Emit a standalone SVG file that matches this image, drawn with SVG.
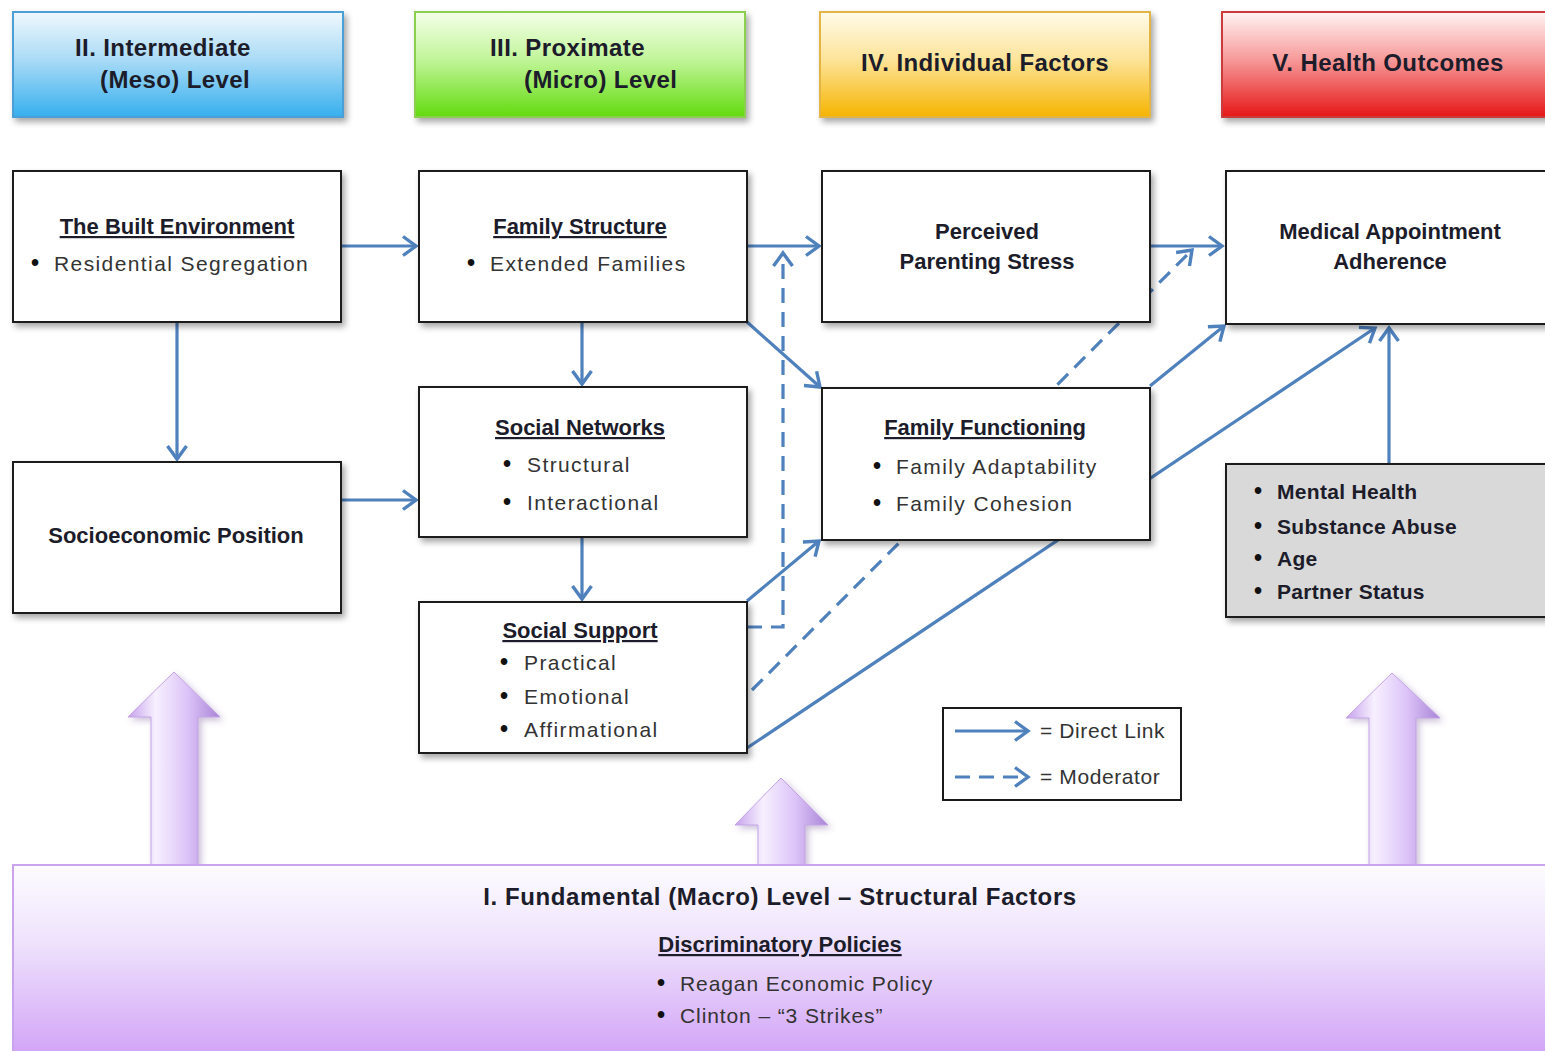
<svg xmlns="http://www.w3.org/2000/svg" width="1545" height="1051" viewBox="0 0 1545 1051">
<style>
.box{fill:#fff;stroke:#1a1a1a;stroke-width:2}
.t{font-family:"Liberation Sans",Arial,sans-serif;fill:#1c1c2a}
.ti{font-weight:bold;font-size:22px;text-decoration:underline}
.nb{font-weight:bold;font-size:22px}
.mt{font-weight:bold;font-size:24px;letter-spacing:0.6px}
.b{font-size:21px;letter-spacing:1.4px;fill:#333}
.bb{font-size:21px;letter-spacing:0.9px;fill:#333}
.dot{font-size:23px;font-weight:bold;fill:#111}
.h{font-weight:bold;font-size:24px;letter-spacing:0.4px}
.gb{font-weight:bold;font-size:21px;letter-spacing:0.3px}
.lg{font-size:21px;letter-spacing:0.6px;fill:#333}
.conn{stroke:#4f81bd;stroke-width:3.2;fill:none}
.dash{stroke-dasharray:15 9}
.parr{stroke:#c3a3e6;stroke-width:1;fill:url(#pa)}
</style>
<defs>
<filter id="sh" x="-10%" y="-10%" width="125%" height="130%">
<feDropShadow dx="3" dy="4" stdDeviation="3" flood-color="#000" flood-opacity="0.35"/>
</filter>
<filter id="sh2" x="-30%" y="-10%" width="160%" height="130%">
<feDropShadow dx="3" dy="3" stdDeviation="3" flood-color="#6a4a90" flood-opacity="0.35"/>
</filter>
<marker id="ah" viewBox="0 0 18 22" refX="15" refY="11" markerWidth="18" markerHeight="22" markerUnits="userSpaceOnUse" orient="auto">
<path d="M2,1.5 L15,11 L2,20.5" fill="none" stroke="#4f81bd" stroke-width="3.4"/>
</marker>
<linearGradient id="gBlue" x1="0" y1="0" x2="0" y2="1">
<stop offset="0" stop-color="#f0f8fd"/><stop offset="0.45" stop-color="#aadbf6"/><stop offset="1" stop-color="#36afee"/>
</linearGradient>
<linearGradient id="gGreen" x1="0" y1="0" x2="0" y2="1">
<stop offset="0" stop-color="#f4ffe9"/><stop offset="0.45" stop-color="#c2f59a"/><stop offset="1" stop-color="#62db0e"/>
</linearGradient>
<linearGradient id="gOrange" x1="0" y1="0" x2="0" y2="1">
<stop offset="0" stop-color="#fffbe9"/><stop offset="0.45" stop-color="#fde49a"/><stop offset="1" stop-color="#f6b400"/>
</linearGradient>
<linearGradient id="gRed" x1="0" y1="0" x2="0" y2="1">
<stop offset="0" stop-color="#fff4f4"/><stop offset="0.45" stop-color="#f79a9a"/><stop offset="1" stop-color="#e61616"/>
</linearGradient>
<linearGradient id="gPurple" x1="0" y1="0" x2="0" y2="1">
<stop offset="0" stop-color="#fdfcff"/><stop offset="0.4" stop-color="#efe3fc"/><stop offset="1" stop-color="#d2a4f7"/>
</linearGradient>
<linearGradient id="pa" x1="0" y1="0" x2="1" y2="0">
<stop offset="0" stop-color="#c6a2ec"/><stop offset="0.3" stop-color="#f7f0ff"/><stop offset="0.65" stop-color="#dcc3f8"/><stop offset="1" stop-color="#a884d6"/>
</linearGradient>
</defs>
<rect width="1545" height="1051" fill="#fff"/>

<g id="headers">
<g id="h-meso">
<rect x="13" y="12" width="330" height="105" fill="url(#gBlue)" stroke="#4a9fd6" stroke-width="2" filter="url(#sh)"/>
<text class="t h" x="75" y="56">II. Intermediate</text>
<text class="t h" x="100" y="88">(Meso) Level</text>
</g>
<g id="h-micro">
<rect x="415" y="12" width="330" height="105" fill="url(#gGreen)" stroke="#8ccf4f" stroke-width="2" filter="url(#sh)"/>
<text class="t h" x="490" y="56">III. Proximate</text>
<text class="t h" x="524" y="88">(Micro) Level</text>
</g>
<g id="h-indiv">
<rect x="820" y="12" width="330" height="105" fill="url(#gOrange)" stroke="#e2b544" stroke-width="2" filter="url(#sh)"/>
<text class="t h" x="985" y="71" text-anchor="middle">IV. Individual Factors</text>
</g>
<g id="h-health">
<rect x="1222" y="12" width="330" height="105" fill="url(#gRed)" stroke="#cc3a3a" stroke-width="2" filter="url(#sh)"/>
<text class="t h" x="1388" y="71" text-anchor="middle">V. Health Outcomes</text>
</g>
</g>

<g id="connectors">
<path class="conn" d="M341,246 H416" marker-end="url(#ah)"/>
<path class="conn" d="M177,322 V459" marker-end="url(#ah)"/>
<path class="conn" d="M341,500 H416" marker-end="url(#ah)"/>
<path class="conn" d="M582,322 V384" marker-end="url(#ah)"/>
<path class="conn" d="M582,537 V599" marker-end="url(#ah)"/>
<path class="conn" d="M747,246 H819" marker-end="url(#ah)"/>
<path class="conn" d="M747,322 L820,387" marker-end="url(#ah)"/>
<path class="conn" d="M1150,246 H1222" marker-end="url(#ah)"/>
<path class="conn" d="M1150,386 L1224,326" marker-end="url(#ah)"/>
<path class="conn" d="M747,748 L1375,328" marker-end="url(#ah)"/>
<path class="conn" d="M1389,464 V328" marker-end="url(#ah)"/>
<path class="conn" d="M747,601 L819,541" marker-end="url(#ah)"/>
<path class="conn dash" d="M747,627 H783 V253" marker-end="url(#ah)"/>
<path class="conn dash" d="M752,690 L1192,250" marker-end="url(#ah)"/>
</g>

<g id="n-built-env">
<rect class="box" x="13" y="171" width="328" height="151" filter="url(#sh)"/>
<text class="t ti" x="177" y="234" text-anchor="middle">The Built Environment</text>
<text class="t dot" x="31" y="271">•</text>
<text class="t b" x="54" y="271">Residential Segregation</text>
</g>
<g id="n-family-structure">
<rect class="box" x="419" y="171" width="328" height="151" filter="url(#sh)"/>
<text class="t ti" x="580" y="234" text-anchor="middle">Family Structure</text>
<text class="t dot" x="467" y="271">•</text>
<text class="t b" x="490" y="271">Extended Families</text>
</g>
<g id="n-parenting-stress">
<rect class="box" x="822" y="171" width="328" height="151" filter="url(#sh)"/>
<text class="t nb" x="987" y="239" text-anchor="middle">Perceived</text>
<text class="t nb" x="987" y="269" text-anchor="middle">Parenting Stress</text>
</g>
<g id="n-adherence">
<rect class="box" x="1226" y="171" width="330" height="153" filter="url(#sh)"/>
<text class="t nb" x="1390" y="239" text-anchor="middle">Medical Appointment</text>
<text class="t nb" x="1390" y="269" text-anchor="middle">Adherence</text>
</g>
<g id="n-sep">
<rect class="box" x="13" y="462" width="328" height="151" filter="url(#sh)"/>
<text class="t nb" x="176" y="543" text-anchor="middle">Socioeconomic Position</text>
</g>
<g id="n-social-networks">
<rect class="box" x="419" y="387" width="328" height="150" filter="url(#sh)"/>
<text class="t ti" x="580" y="435" text-anchor="middle">Social Networks</text>
<text class="t dot" x="503" y="472">•</text>
<text class="t b" x="527" y="472">Structural</text>
<text class="t dot" x="503" y="510">•</text>
<text class="t b" x="527" y="510">Interactional</text>
</g>
<g id="n-family-functioning">
<rect class="box" x="822" y="388" width="328" height="152" filter="url(#sh)"/>
<text class="t ti" x="985" y="435" text-anchor="middle">Family Functioning</text>
<text class="t dot" x="873" y="474">•</text>
<text class="t b" x="896" y="474">Family Adaptability</text>
<text class="t dot" x="873" y="511">•</text>
<text class="t b" x="896" y="511">Family Cohesion</text>
</g>
<g id="n-individual">
<rect x="1226" y="464" width="330" height="153" fill="#d9d9d9" stroke="#1a1a1a" stroke-width="2" filter="url(#sh)"/>
<text class="t dot" x="1254" y="499">•</text>
<text class="t gb" x="1277" y="499">Mental Health</text>
<text class="t dot" x="1254" y="534">•</text>
<text class="t gb" x="1277" y="534">Substance Abuse</text>
<text class="t dot" x="1254" y="566">•</text>
<text class="t gb" x="1277" y="566">Age</text>
<text class="t dot" x="1254" y="599">•</text>
<text class="t gb" x="1277" y="599">Partner Status</text>
</g>
<g id="n-social-support">
<rect class="box" x="419" y="602" width="328" height="151" filter="url(#sh)"/>
<text class="t ti" x="580" y="638" text-anchor="middle">Social Support</text>
<text class="t dot" x="500" y="670">•</text>
<text class="t b" x="524" y="670">Practical</text>
<text class="t dot" x="500" y="704">•</text>
<text class="t b" x="524" y="704">Emotional</text>
<text class="t dot" x="500" y="737">•</text>
<text class="t b" x="524" y="737">Affirmational</text>
</g>

<g id="legend">
<rect x="943" y="708" width="238" height="92" fill="#fff" stroke="#1a1a1a" stroke-width="2"/>
<path class="conn" d="M955,731 H1028" marker-end="url(#ah)"/>
<path class="conn dash" d="M955,777 H1028" marker-end="url(#ah)"/>
<text class="t lg" x="1040" y="738">= Direct Link</text>
<text class="t lg" x="1040" y="784">= Moderator</text>
</g>

<g id="macro-arrows">
<polygon class="parr" filter="url(#sh2)" points="174,672 220,717 198,717 198,866 151,866 151,717 128,717"/>
<polygon class="parr" filter="url(#sh2)" points="781,778 828,825 805,825 805,866 758,866 758,825 735,825"/>
<polygon class="parr" filter="url(#sh2)" points="1392,673 1440,718 1416,718 1416,866 1369,866 1369,718 1346,718"/>
</g>

<g id="n-macro">
<rect x="13" y="865" width="1545" height="190" fill="url(#gPurple)" stroke="#c9a3ec" stroke-width="2"/>
<text class="t mt" x="780" y="905" text-anchor="middle">I. Fundamental (Macro) Level – Structural Factors</text>
<text class="t ti" x="780" y="952" text-anchor="middle">Discriminatory Policies</text>
<text class="t dot" x="657" y="991">•</text>
<text class="t bb" x="680" y="991">Reagan Economic Policy</text>
<text class="t dot" x="657" y="1023">•</text>
<text class="t bb" x="680" y="1023">Clinton – “3 Strikes”</text>
</g>
</svg>
